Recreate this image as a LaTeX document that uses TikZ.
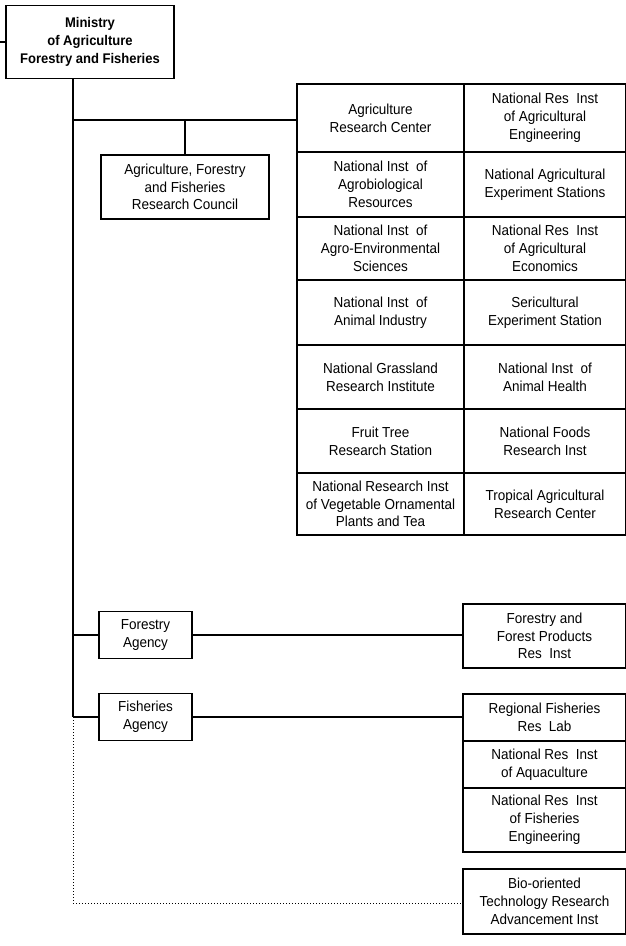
\documentclass[tikz,border=0pt]{standalone}
\usepackage{fontspec}
\setmainfont{Liberation Sans}[FakeStretch=0.93]
\usepackage{tikz}
\usetikzlibrary{positioning}

\begin{document}
\begin{tikzpicture}[x=1pt, y=-1pt,
		box/.style={draw, line width=1.2pt, align=center, inner sep=0pt, font=\fontsize{14.5}{17.8}\selectfont},
		cellL/.style={box, minimum width=167pt},
		cellR/.style={box, minimum width=162pt},
		agency/.style={box, minimum width=93pt, minimum height=47pt},
		link/.style={line width=1.2pt},
		dotlink/.style={line width=1pt, dotted}]
		\useasboundingbox (0,0) rectangle (626,946);
		\node[box, minimum width=168pt, minimum height=73pt, font=\bfseries\fontsize{14}{17.8}\selectfont] (min) at (90,42) {Ministry\\of Agriculture\\Forestry and Fisheries};
		\node[box, minimum width=168pt, minimum height=64pt] (council) at (185,187) {Agriculture, Forestry\\and Fisheries\\Research Council};
		\node[cellL, minimum height=68pt] (arc) at (380.5,118) {Agriculture\\Research Center};
		\node[cellR, minimum height=68pt] (nriae) at (545,118) {National Res~~Inst\\of Agricultural\\Engineering};
		\node[cellL, minimum height=65pt] (niar) at (380.5,184.5) {National Inst~~of\\Agrobiological\\Resources};
		\node[cellR, minimum height=65pt] (naes) at (545,184.5) {National Agricultural\\Experiment Stations};
		\node[cellL, minimum height=63pt] (niaes) at (380.5,248.5) {National Inst~~of\\Agro-Environmental\\Sciences};
		\node[cellR, minimum height=63pt] (nriaecon) at (545,248.5) {National Res~~Inst\\of Agricultural\\Economics};
		\node[cellL, minimum height=65pt] (niai) at (380.5,312.5) {National Inst~~of\\Animal Industry};
		\node[cellR, minimum height=65pt] (ses) at (545,312.5) {Sericultural\\Experiment Station};
		\node[cellL, minimum height=64pt] (ngri) at (380.5,377) {National Grassland\\Research Institute};
		\node[cellR, minimum height=64pt] (niah) at (545,377) {National Inst~~of\\Animal Health};
		\node[cellL, minimum height=64pt] (ftrs) at (380.5,441) {Fruit Tree\\Research Station};
		\node[cellR, minimum height=64pt] (nfri) at (545,441) {National Foods\\Research Inst};
		\node[cellL, minimum height=62pt] (nrivot) at (380.5,504) {National Research Inst\\of Vegetable Ornamental\\Plants and Tea};
		\node[cellR, minimum height=62pt] (tarc) at (545,504) {Tropical Agricultural\\Research Center};
		\node[agency] (forag) at (145.5,635) {Forestry\\Agency};
		\node[agency] (fisag) at (145.5,717) {Fisheries\\Agency};
		\node[cellR, minimum width=163pt, minimum height=64pt] (ffpri) at (544.5,636) {Forestry and\\Forest Products\\Res~~Inst};
		\node[cellR, minimum width=163pt, minimum height=47pt] (rfrl) at (544.5,717.5) {Regional Fisheries\\Res~~Lab};
		\node[cellR, minimum width=163pt, minimum height=47pt] (nria) at (544.5,764.5) {National Res~~Inst\\of Aquaculture};
		\node[cellR, minimum width=163pt, minimum height=64pt] (nrife) at (544.5,820) {National Res~~Inst\\of Fisheries\\Engineering};
		\node[cellR, minimum width=163pt, minimum height=65pt] (bio) at (544.5,901.5) {Bio-oriented\\Technology Research\\Advancement Inst};
		\coordinate (stub) at (0,42);
		\coordinate (jtop) at (73,120);
		\coordinate (jfor) at (73,635);
		\coordinate (jfis) at (73,717);
		\coordinate (jbio) at (73,903);
		\draw[link] (stub) -- (min.west);
		\draw[link] (min.south -| jtop) -- (jfis);
		\draw[link] (jtop) -- (jtop -| arc.west);
		\draw[link] (council.north) -- (council.north |- jtop);
		\draw[link] (jfor) -- (forag.west);
		\draw[link] (forag.east) -- (forag.east -| ffpri.west);
		\draw[link] (jfis) -- (fisag.west);
		\draw[link] (fisag.east) -- (fisag.east -| rfrl.west);
		\draw[dotlink] (jfis) -- (jbio) -- (jbio -| bio.west);
	\end{tikzpicture}
\end{document}
